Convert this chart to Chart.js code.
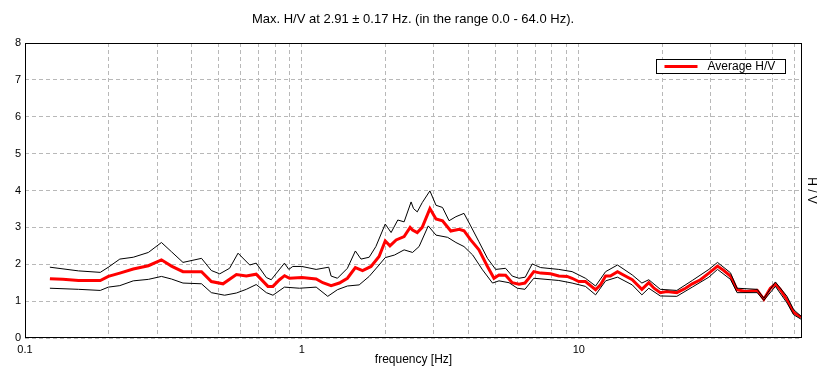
<!DOCTYPE html>
<html>
<head>
<meta charset="utf-8">
<script src="https://cdn.jsdelivr.net/npm/chart.js@4.4.1/dist/chart.umd.min.js"></script>
<style>
  html, body { margin: 0; padding: 0; background: #fff; }
</style>
</head>
<body>
<canvas id="hvChart" width="826" height="381"></canvas>
<script>
// frequency (Hz) and H/V values
var avgFreq = [0.123,0.137,0.156,0.187,0.2,0.22,0.246,0.279,0.311,0.338,0.372,0.434,0.471,0.519,0.58,0.63,0.684,0.754,0.786,0.83,0.866,0.902,1.0,1.126,1.19,1.275,1.366,1.46,1.56,1.656,1.777,1.9,2.0,2.08,2.19,2.34,2.46,2.51,2.61,2.72,2.9,3.05,3.22,3.45,3.7,3.85,4.07,4.36,4.68,4.94,5.15,5.44,5.75,6.08,6.39,6.6,6.88,7.28,7.91,8.47,9.08,9.46,10.0,10.57,11.5,11.97,12.5,13.0,13.8,14.5,15.6,16.9,17.9,18.7,19.7,20.8,22.6,24.3,25.7,27.5,29.5,31.7,33.4,35.3,37.3,40.0,44.1,46.6,49.2,51.3,53.5,56.5,59.7,63.5];
var avgHV = [1.61,1.59,1.56,1.56,1.67,1.76,1.87,1.96,2.12,1.95,1.80,1.80,1.53,1.47,1.72,1.68,1.73,1.40,1.40,1.58,1.69,1.62,1.64,1.60,1.50,1.42,1.49,1.62,1.91,1.83,1.94,2.21,2.63,2.50,2.66,2.75,3.00,2.93,2.86,3.00,3.51,3.23,3.18,2.90,2.95,2.91,2.66,2.39,1.94,1.62,1.71,1.70,1.50,1.46,1.49,1.62,1.80,1.76,1.74,1.68,1.67,1.62,1.53,1.53,1.31,1.44,1.68,1.68,1.80,1.71,1.58,1.32,1.50,1.35,1.23,1.26,1.23,1.35,1.47,1.58,1.76,1.95,1.83,1.68,1.31,1.26,1.29,1.05,1.35,1.46,1.31,1.04,0.69,0.56];

var upFreq = [0.123,0.156,0.187,0.2,0.22,0.246,0.279,0.311,0.338,0.372,0.434,0.471,0.505,0.548,0.588,0.648,0.684,0.744,0.775,0.865,0.897,0.927,1.0,1.126,1.25,1.275,1.344,1.46,1.56,1.635,1.75,1.85,2.0,2.1,2.22,2.34,2.48,2.53,2.61,2.72,2.9,3.05,3.22,3.4,3.6,3.85,4.07,4.36,4.68,5.01,5.44,5.75,6.08,6.41,6.79,7.28,8.47,9.46,10.0,10.57,11.5,12.5,13.8,15.6,16.9,17.9,19.7,22.6,25.7,29.5,31.7,35.3,37.3,44.1,46.6,51.3,56.5,59.7,63.5];
var upHV = [1.92,1.82,1.78,1.92,2.14,2.19,2.32,2.59,2.34,2.05,2.16,1.83,1.74,1.89,2.30,1.98,2.03,1.64,1.58,2.03,1.86,1.94,1.94,1.86,1.92,1.68,1.62,1.89,2.36,2.14,2.19,2.48,3.09,2.86,3.20,3.15,3.69,3.51,3.42,3.67,3.99,3.60,3.54,3.18,3.29,3.38,3.04,2.61,2.16,1.86,1.89,1.68,1.62,1.65,2.01,1.91,1.86,1.80,1.71,1.62,1.41,1.80,1.98,1.71,1.49,1.58,1.32,1.29,1.56,1.86,2.05,1.77,1.35,1.32,1.08,1.52,1.13,0.77,0.59];

var lowFreq = [0.123,0.156,0.187,0.2,0.22,0.246,0.279,0.311,0.338,0.372,0.434,0.471,0.526,0.58,0.63,0.684,0.744,0.786,0.865,0.98,1.126,1.24,1.344,1.46,1.61,1.75,1.9,2.0,2.16,2.34,2.51,2.65,2.86,3.05,3.36,3.6,3.85,4.14,4.49,4.88,5.15,5.6,6.0,6.39,6.88,8.47,9.46,10.57,11.5,12.5,13.8,15.6,16.9,17.9,19.7,22.6,25.7,29.5,31.7,35.3,37.3,44.1,46.6,51.3,56.5,59.7,63.5];
var lowHV = [1.35,1.32,1.29,1.38,1.42,1.55,1.59,1.67,1.60,1.49,1.47,1.23,1.16,1.22,1.32,1.45,1.23,1.16,1.38,1.35,1.38,1.13,1.31,1.41,1.44,1.67,1.98,2.18,2.25,2.39,2.32,2.48,3.04,2.79,2.73,2.59,2.48,2.25,1.85,1.49,1.55,1.50,1.35,1.32,1.62,1.56,1.49,1.40,1.17,1.55,1.65,1.44,1.17,1.35,1.14,1.13,1.38,1.65,1.86,1.59,1.23,1.23,1.02,1.40,0.95,0.63,0.51];

// grid positions on the log axis, only decades get a label
var freqGrid = [0.1,0.2,0.3,0.4,0.5,0.6,0.7,0.8,0.9,1,2,3,4,5,6,7,8,9,10,20,30,40,50,60];
var freqLabels = [0.1, 1, 10];

function pts(xs, ys) {
  return xs.map(function (x, i) { return { x: x, y: ys[i] }; });
}

Chart.defaults.font.family = "'Liberation Sans', Arial, sans-serif";
Chart.defaults.font.size = 11;
Chart.defaults.color = '#000';

var dash = [4, 3];

// plot frame + legend box like the original program
var framePlugin = {
  id: 'frame',
  afterDraw: function (chart) {
    var c = chart.ctx, a = chart.chartArea;
    c.save();
    c.strokeStyle = '#000';
    c.lineWidth = 1;
    c.strokeRect(Math.round(a.left) + 0.5, Math.round(a.top) + 0.5,
      Math.round(a.right - a.left) - 1, Math.round(a.bottom - a.top) - 1);

    var bx = Math.round(a.right) - 145.5, by = Math.round(a.top) + 16.5;
    c.fillStyle = '#fff';
    c.fillRect(bx, by, 129, 14);
    c.strokeRect(bx, by, 129, 14);
    c.strokeStyle = '#ff0000';
    c.lineWidth = 3;
    c.beginPath();
    c.moveTo(bx + 8, by + 7);
    c.lineTo(bx + 41, by + 7);
    c.stroke();
    c.fillStyle = '#000';
    c.font = "12px 'Liberation Sans', Arial, sans-serif";
    c.textBaseline = 'middle';
    c.fillText(chart.data.datasets[0].label, bx + 51, by + 7.5);
    c.restore();
  }
};

new Chart(document.getElementById('hvChart'), {
  type: 'line',
  data: {
    datasets: [
      {
        label: 'Average H/V',
        data: pts(avgFreq, avgHV),
        borderColor: '#ff0000',
        borderWidth: 3,
        pointRadius: 0,
        order: 2
      },
      {
        label: 'upper',
        data: pts(upFreq, upHV),
        borderColor: '#000',
        borderWidth: 1,
        pointRadius: 0,
        order: 1
      },
      {
        label: 'lower',
        data: pts(lowFreq, lowHV),
        borderColor: '#000',
        borderWidth: 1,
        pointRadius: 0,
        order: 1
      }
    ]
  },
  options: {
    responsive: false,
    animation: false,
    layout: { padding: 0 },
    plugins: {
      legend: { display: false },
      tooltip: { enabled: false },
      title: {
        display: true,
        text: 'Max. H/V at 2.91 \u00b1 0.17 Hz. (in the range 0.0 - 64.0 Hz).',
        font: { size: 13, weight: 'normal' },
        color: '#000',
        padding: { top: 12, bottom: 15.4 }
      }
    },
    scales: {
      x: {
        type: 'logarithmic',
        min: 0.1,
        max: 64,
        afterBuildTicks: function (scale) {
          scale.ticks = freqGrid.map(function (v) { return { value: v }; });
        },
        afterFit: function (scale) { scale.height = 43; },
        grid: { color: '#b8b8b8', drawTicks: false, borderDash: dash },
        border: { display: false, dash: dash },
        ticks: {
          autoSkip: false,
          maxRotation: 0,
          padding: 5,
          font: { size: 11 },
          callback: function (v) {
            return freqLabels.indexOf(v) >= 0 ? String(v) : '';
          }
        },
        title: {
          display: true,
          text: 'frequency [Hz]',
          font: { size: 12 },
          padding: { top: 0, bottom: 13.8 }
        }
      },
      y: {
        min: 0,
        max: 8,
        afterFit: function (scale) { scale.width = 25; },
        grid: { color: '#b8b8b8', drawTicks: false, borderDash: dash },
        border: { display: false, dash: dash },
        ticks: { stepSize: 1, padding: 4, font: { size: 11 } }
      },
      y2: {
        position: 'right',
        min: 0,
        max: 8,
        afterFit: function (scale) { scale.width = 24; },
        grid: { display: false, drawTicks: false },
        border: { display: false },
        ticks: { display: false },
        title: {
          display: true,
          text: 'H / V',
          font: { size: 12 },
          padding: { top: 7, bottom: 0 }
        }
      }
    }
  },
  plugins: [framePlugin]
});
</script>
</body>
</html>
